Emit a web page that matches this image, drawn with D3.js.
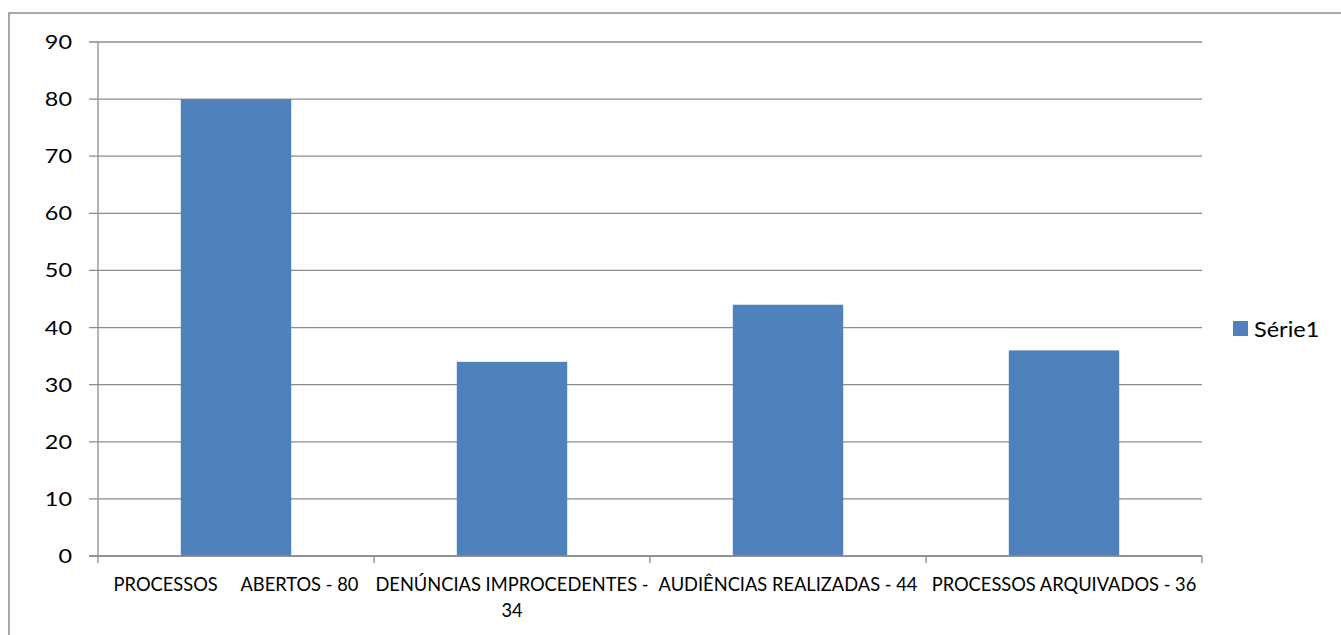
<!DOCTYPE html>
<html>
<head>
<meta charset="utf-8">
<script src="https://cdn.jsdelivr.net/npm/d3@7"></script>
<style>
  html, body { margin: 0; padding: 0; background: #fff; }
  svg { display: block; font-family: "Lato", "Open Sans", sans-serif; }
</style>
</head>
<body>
<svg id="chart" width="1341" height="635"></svg>
<script>
// Categories (line breaks mark where the axis label wraps)
const categories = [
  "PROCESSOS     ABERTOS - 80",
  "DENÚNCIAS IMPROCEDENTES -\n34",
  "AUDIÊNCIAS REALIZADAS - 44",
  "PROCESSOS ARQUIVADOS - 36"
];
const serie1 = [80, 34, 44, 36];
const yTicks = [0, 10, 20, 30, 40, 50, 60, 70, 80, 90];
const seriesName = "Série1";

const svg = d3.select("#chart");
const plot = { left: 98, right: 1202, top: 42, bottom: 556 };
const barColor = "#4F81BD";
const lineColor = "#8c8c8c";

// Outer chart frame
svg.append("rect")
  .attr("x", 9).attr("y", 13)
  .attr("width", 1340).attr("height", 640)
  .attr("fill", "none")
  .attr("stroke", lineColor)
  .attr("stroke-width", 1.5);

const x = d3.scaleBand()
  .domain(categories)
  .range([plot.left, plot.right])
  .paddingInner(0.6)
  .paddingOuter(0.3);

// band boundaries for tick marks
const band = (plot.right - plot.left) / categories.length;

const y = d3.scaleLinear()
  .domain([0, 90])
  .range([plot.bottom, plot.top]);

// Horizontal gridlines
svg.append("g")
  .selectAll("line")
  .data(yTicks)
  .join("line")
  .attr("x1", plot.left - 9)
  .attr("x2", plot.right)
  .attr("y1", d => y(d))
  .attr("y2", d => y(d))
  .attr("stroke", lineColor)
  .attr("stroke-width", 1.3);

// Y tick labels (slightly widened glyphs)
svg.append("g")
  .selectAll("text")
  .data(yTicks)
  .join("text")
  .attr("transform", d => `translate(72,${y(d)}) scale(1.2,1)`)
  .attr("dy", "0.36em")
  .attr("text-anchor", "end")
  .attr("font-size", 19.5)
  .attr("fill", "#000")
  .text(d => d);

// Bars
svg.append("g")
  .selectAll("rect")
  .data(serie1)
  .join("rect")
  .attr("x", (d, i) => x(categories[i]))
  .attr("y", d => y(d))
  .attr("width", x.bandwidth())
  .attr("height", d => y(0) - y(d))
  .attr("fill", barColor);

// Axes lines
svg.append("line")
  .attr("x1", plot.left).attr("x2", plot.left)
  .attr("y1", plot.top).attr("y2", plot.bottom)
  .attr("stroke", lineColor).attr("stroke-width", 1.3);
svg.append("line")
  .attr("x1", plot.left - 9).attr("x2", plot.right)
  .attr("y1", plot.bottom).attr("y2", plot.bottom)
  .attr("stroke", lineColor).attr("stroke-width", 1.3);

// X tick marks at category boundaries
svg.append("g")
  .selectAll("line")
  .data(d3.range(categories.length + 1))
  .join("line")
  .attr("x1", i => plot.left + i * band)
  .attr("x2", i => plot.left + i * band)
  .attr("y1", plot.bottom)
  .attr("y2", plot.bottom + 7)
  .attr("stroke", lineColor).attr("stroke-width", 1.3);

// Category labels
const catLabels = svg.append("g")
  .selectAll("text")
  .data(categories)
  .join("text")
  .attr("x", d => x(d) + x.bandwidth() / 2)
  .attr("y", 591)
  .attr("text-anchor", "middle")
  .attr("font-size", 18.3)
  .attr("fill", "#000")
  .style("white-space", "pre");

catLabels.each(function(d) {
  const lines = d.split("\n");
  const t = d3.select(this);
  lines.forEach((ln, k) => {
    t.append("tspan")
      .attr("x", t.attr("x"))
      .attr("dy", k === 0 ? 0 : 26)
      .text(ln);
  });
});

// Legend
svg.append("rect")
  .attr("x", 1233).attr("y", 321)
  .attr("width", 15).attr("height", 15)
  .attr("fill", barColor);
svg.append("text")
  .attr("transform", "translate(1254,329) scale(1.12,1)")
  .attr("dy", "0.36em")
  .attr("font-size", 21)
  .attr("fill", "#000")
  .text(seriesName);
</script>
</body>
</html>
